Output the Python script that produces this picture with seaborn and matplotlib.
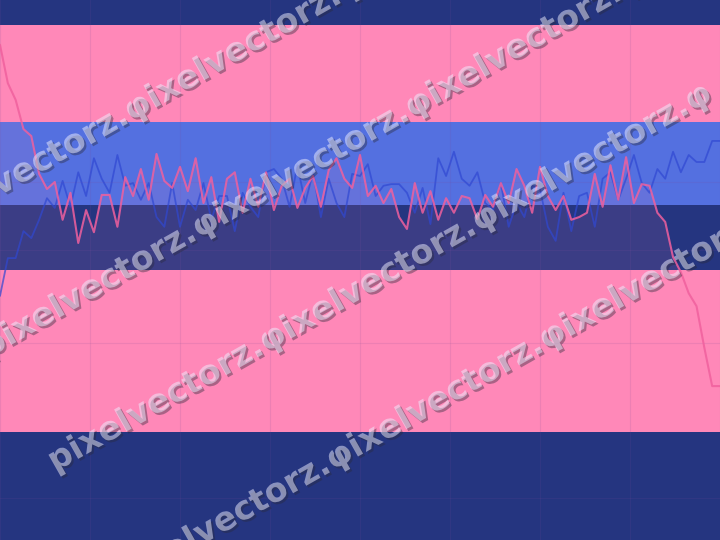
import numpy as np
import pandas as pd
import seaborn as sns
import matplotlib.pyplot as plt
import matplotlib.patheffects as pe

# values (0-100 scale)
pink_vals = [91.7, 84.6, 81.5, 76.1, 74.8, 67.8, 65.0, 66.3, 59.3, 64.3,
             55.0, 61.1, 57.0, 63.9, 63.9, 58.0, 67.2, 63.7, 68.7, 63.0,
             71.5, 66.5, 65.2, 69.1, 64.6, 70.7, 62.4, 67.2, 58.9, 66.9,
             68.1, 60.6, 66.9, 61.7, 68.1, 61.1, 65.6, 66.9, 61.5, 65.2,
             67.4, 61.7, 68.5, 70.7, 66.9, 65.2, 71.3, 63.7, 65.6, 62.4,
             65.0, 59.8, 57.6, 66.1, 60.6, 64.6, 59.3, 63.3, 60.6, 63.7,
             63.3, 59.4, 63.9, 61.7, 66.1, 62.4, 68.7, 65.6, 60.6, 69.1,
             63.7, 61.1, 63.7, 59.3, 59.8, 60.6, 67.8, 61.7, 69.4, 63.0,
             70.9, 62.4, 65.9, 65.6, 60.6, 58.9, 52.4, 49.6, 45.7, 43.3,
             35.6, 28.5, 28.5]
blue_vals = [45.2, 52.2, 52.2, 57.2, 55.9, 59.3, 63.3, 61.5, 66.5, 61.7,
             68.1, 63.7, 70.7, 66.9, 64.3, 71.3, 65.6, 66.1, 63.0, 66.1,
             59.8, 58.0, 66.1, 58.0, 63.0, 61.1, 66.1, 59.3, 63.7, 63.7,
             57.2, 64.3, 61.7, 59.8, 68.1, 68.7, 66.9, 61.7, 69.4, 62.4,
             68.1, 59.8, 66.9, 62.4, 59.8, 67.8, 67.4, 69.6, 63.7, 65.6,
             65.9, 65.9, 64.3, 60.6, 65.2, 58.5, 70.7, 67.4, 71.9, 66.9,
             65.6, 68.1, 62.4, 61.1, 66.1, 58.0, 62.4, 59.8, 65.6, 65.0,
             58.0, 55.4, 64.3, 57.2, 63.7, 64.3, 58.0, 66.9, 68.1, 63.0,
             66.9, 71.3, 66.1, 64.3, 68.7, 66.9, 71.9, 68.1, 71.3, 70.0,
             70.0, 73.9, 73.9]
steps = list(range(len(pink_vals)))

# background stripes
stripe_lo = [20, 62, 77.4]
stripe_hi = [50, 77.4, 95.4]
stripe_colors = ['#ff88b8', '#5470e0', '#ff88b8']

grid_y = [7.8, 36.5, 53.7, 66.3]

# watermark rows, start of baseline in pixels
mark = 'pixelvectorz.φixelvectorz.φixelvectorz.φ'
mark_x = [-80, -12, 55, 122]
mark_y = [241, 358, 472, 590]

sns.set_theme(style='darkgrid')
plt.rcParams['font.family'] = ['DejaVu Sans']

df = pd.DataFrame({'step': steps, 'pink': pink_vals, 'blue': blue_vals})

fig = plt.figure(figsize=(7.2, 5.4), dpi=100)
ax = fig.add_axes([0, 0, 1, 1])
ax.set_facecolor('#253580')

for lo, hi, c in zip(stripe_lo, stripe_hi, stripe_colors):
    ax.axhspan(lo, hi, color=c, lw=0, zorder=-1)

ax.fill_between(df['step'], df['pink'], 25, color='#ff88b8', alpha=0.1, lw=0, zorder=1)
sns.lineplot(data=df, x='step', y='blue', color='#3048d2', alpha=0.7, lw=1.3, ax=ax, zorder=2)
sns.lineplot(data=df, x='step', y='pink', color='#f0609e', alpha=0.85, lw=1.5, ax=ax, zorder=3)

ax.set_xlim(0, len(steps) - 1)
ax.set_ylim(0, 100)
ax.set_xticks(np.linspace(0, len(steps) - 1, 9))
ax.set_yticks(grid_y)
ax.grid(True, color='#7a4a9a', alpha=0.14, lw=0.8)
ax.set_axisbelow(True)
ax.tick_params(length=0, labelbottom=False, labelleft=False)
ax.set_xlabel('')
ax.set_ylabel('')
for s in ax.spines.values():
    s.set_visible(False)

for x0, y0 in zip(mark_x, mark_y):
    fig.text(x0 / 720, 1 - y0 / 540, mark, rotation=29.5, rotation_mode='anchor',
             ha='left', va='baseline', fontsize=24, fontweight='bold',
             color='#eeeeff', alpha=0.5,
             path_effects=[pe.SimplePatchShadow(offset=(1.5, -1.5), shadow_rgbFace='#2a2a3a', alpha=0.4),
                           pe.Normal()])

fig.savefig('out.png', dpi=100)
